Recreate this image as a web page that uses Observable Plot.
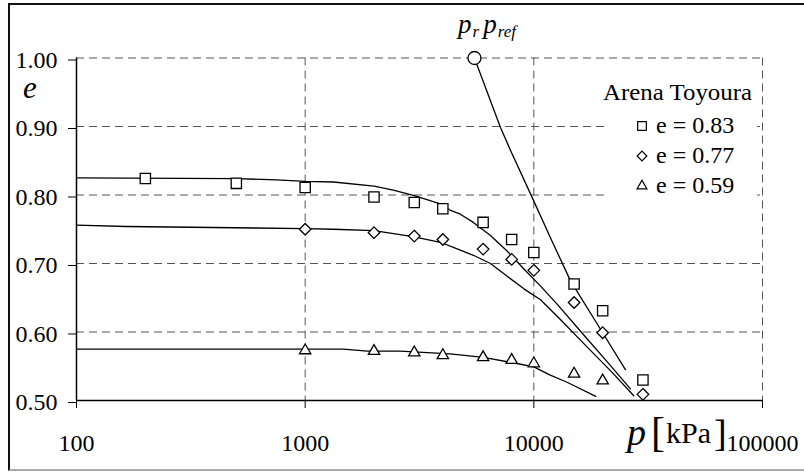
<!DOCTYPE html>
<html><head><meta charset="utf-8">
<script src="https://cdn.jsdelivr.net/npm/d3@7"></script>
<script src="https://cdn.jsdelivr.net/npm/@observablehq/plot@0.6"></script>
<style>
body{margin:0;background:#fff;}
#wrap{position:relative;width:804px;height:472px;overflow:hidden;font-family:"Liberation Serif","Times New Roman",serif;}
#frame{position:absolute;left:8px;top:3px;width:820px;height:468px;border-top:2px solid #111;border-left:2px solid #111;border-bottom:2px solid #aaa;box-sizing:border-box;pointer-events:none;}
#wrap svg{position:absolute;left:0;top:0;}
#wrap svg, #wrap svg text{font-family:"Liberation Serif","Times New Roman",serif !important;}
</style></head><body><div id="wrap"><div id="frame"></div></div>
<script>
// ticks
const pTicks = [100, 1000, 10000, 100000];
const eTicks = [0.5, 0.6, 0.7, 0.8, 0.9, 1.0];
const legendTitle = "Arena Toyoura";
const seriesNames = ["e = 0.83", "e = 0.77", "e = 0.59"];
const seriesSymbols = ["square", "diamond2", "triangle2"];

// measured points
const pSq = [200, 500, 1000, 2000, 3000, 4000, 6000, 8000, 10000, 15000, 20000, 30000];
const eSq = [0.824, 0.817, 0.811, 0.797, 0.789, 0.780, 0.760, 0.735, 0.716, 0.670, 0.631, 0.530];
const pDi = [1000, 2000, 3000, 4000, 6000, 8000, 10000, 15000, 20000, 30000];
const eDi = [0.750, 0.745, 0.740, 0.735, 0.721, 0.706, 0.690, 0.643, 0.599, 0.509];
const pTr = [1000, 2000, 3000, 4000, 6000, 8000, 10000, 15000, 20000];
const eTr = [0.573, 0.572, 0.570, 0.566, 0.563, 0.559, 0.554, 0.539, 0.529];

// fitted curves
const pFitSq = [100, 500, 750, 1000, 1330, 2000, 2430, 3000, 3900, 4300, 4770, 5440, 6460, 7600, 9050, 10700, 12700, 16500, 21000, 26450];
const eFitSq = [0.825, 0.824, 0.822, 0.820, 0.819, 0.813, 0.807, 0.799, 0.787, 0.778, 0.772, 0.760, 0.741, 0.719, 0.692, 0.667, 0.640, 0.596, 0.556, 0.517];
const pFitDi = [100, 165, 1000, 1330, 2000, 2600, 3000, 3900, 4650, 5440, 6460, 7600, 9050, 10700, 13000, 17000, 22000, 27350];
const eFitDi = [0.756, 0.754, 0.751, 0.750, 0.748, 0.742, 0.739, 0.731, 0.721, 0.712, 0.700, 0.682, 0.663, 0.647, 0.619, 0.579, 0.541, 0.507];
const pFitTr = [100, 1470, 1870, 2600, 4300, 6030, 8430, 10000, 11800, 13900, 18660];
const eFitTr = [0.575, 0.575, 0.572, 0.572, 0.568, 0.563, 0.554, 0.549, 0.537, 0.527, 0.506];
// reference line from p_ref
const pRef = [5500, 7140, 7910, 9660, 12000, 14450, 19900, 25150];
const eRef = [1.000, 0.899, 0.865, 0.802, 0.733, 0.675, 0.600, 0.545];
const pRefPoint = [5500];
const eRefPoint = [1.00];

const zip = (ps, es) => ps.map((p, i) => ({p, e: es[i]}));

const serif = "Liberation Serif, Times New Roman, serif";
const lineStyle = {x: "p", y: "e", stroke: "#000", strokeWidth: 1.3};
const dotStyle = {x: "p", y: "e", fill: "#fff", stroke: "#000", strokeWidth: 1.3};
const gridStyle = {stroke: "#555", strokeOpacity: 1, strokeWidth: 1, strokeDasharray: "8,5"};

const chart = Plot.plot({
  width: 804, height: 472,
  marginLeft: 76, marginRight: 42, marginTop: 57.5, marginBottom: 72,
  x: {type: "log", domain: [100, 100000]},
  y: {domain: [0.5, 1.0]},
  style: {fontFamily: serif, fontSize: "24px", color: "#000", background: "transparent", overflow: "visible"},
  marks: [
    Plot.gridX([1000, 10000, 100000], gridStyle),
    Plot.gridY([0.6, 0.7, 0.8, 0.9, 1.0], gridStyle),
    Plot.ruleX([100], {stroke: "#000", strokeWidth: 1.5}),
    Plot.ruleY([0.5], {stroke: "#000", strokeWidth: 1.5}),
    Plot.axisX(pTicks, {tickSize: 8, tickPadding: 25, tickFormat: d => String(d), fontSize: 24, label: null, stroke: "#000"}),
    Plot.axisY(eTicks, {tickSize: 8, tickPadding: 11, tickFormat: d => d.toFixed(2), fontSize: 24, label: null, dy: 2, stroke: "#000"}),
    Plot.line(zip(pFitSq, eFitSq), lineStyle),
    Plot.line(zip(pFitDi, eFitDi), lineStyle),
    Plot.line(zip(pFitTr, eFitTr), lineStyle),
    Plot.line(zip(pRef, eRef), lineStyle),
    Plot.dot(zip(pSq, eSq), {...dotStyle, symbol: () => seriesSymbols[0], r: 5.8}),
    Plot.dot(zip(pDi, eDi), {...dotStyle, symbol: () => seriesSymbols[1], r: 5.2}),
    Plot.dot(zip(pTr, eTr), {...dotStyle, symbol: () => seriesSymbols[2], r: 5.4}),
    Plot.dot(zip(pRefPoint, eRefPoint), {...dotStyle, r: 6.5})
  ]
});
document.getElementById("wrap").appendChild(chart);

const svg = d3.select(chart);
const X = v => chart.scale("x").apply(v);
const Y = v => chart.scale("y").apply(v);

// p_r p_ref label above the reference point
const cx = X(pRefPoint[0]), cy = Y(eRefPoint[0]);
const t1 = svg.append("text").attr("font-family", serif).attr("fill", "#000").attr("text-anchor", "start")
  .attr("x", cx - 16).attr("y", cy - 25);
t1.append("tspan").attr("font-style", "italic").attr("font-size", 27).text("p");
t1.append("tspan").attr("font-style", "italic").attr("font-size", 17).attr("dy", 4).attr("dx", 1).text("r");
t1.append("tspan").attr("font-size", 17).text(" ");
t1.append("tspan").attr("font-style", "italic").attr("font-size", 27).attr("dy", -4).text("p");
t1.append("tspan").attr("font-style", "italic").attr("font-size", 17).attr("dy", 4).attr("dx", 1).text("ref");

// axis labels
svg.append("text").attr("font-family", serif).attr("font-style", "italic").attr("font-size", 31)
  .attr("text-anchor", "start").attr("x", 23).attr("y", 98).attr("fill", "#000").text("e");
const xl = svg.append("g").attr("font-family", serif).attr("fill", "#000").attr("text-anchor", "start");
xl.append("text").attr("x", 627).attr("y", 445).attr("font-style", "italic").attr("font-size", 38).text("p");
xl.append("text").attr("x", 651).attr("y", 446).attr("font-size", 42).text("[");
xl.append("text").attr("x", 666).attr("y", 443).attr("font-size", 30).text("kPa");
xl.append("text").attr("x", 714).attr("y", 446).attr("font-size", 38).text("]");

// legend
const lg = svg.append("g").attr("font-family", serif).attr("fill", "#000").attr("text-anchor", "start");
lg.append("rect").attr("x", 607).attr("y", 63).attr("width", 150).attr("height", 150).attr("fill", "#fff");
lg.append("text").attr("x", 603).attr("y", 100).attr("font-size", 24)
  .attr("textLength", 149).attr("lengthAdjust", "spacingAndGlyphs").text(legendTitle);
const symMap = {square: d3.symbolSquare, diamond2: d3.symbolDiamond2, triangle2: d3.symbolTriangle2};
const symSize = {square: 75, diamond2: 60, triangle2: 70};
seriesNames.forEach((name, i) => {
  const yb = 133 + i * 30;
  lg.append("path").attr("d", d3.symbol(symMap[seriesSymbols[i]], symSize[seriesSymbols[i]])())
    .attr("transform", `translate(642,${yb - 7})`).attr("fill", "#fff").attr("stroke", "#000").attr("stroke-width", 1.2);
  lg.append("text").attr("x", 656).attr("y", yb).attr("font-size", 24).text(name);
});
</script></body></html>
